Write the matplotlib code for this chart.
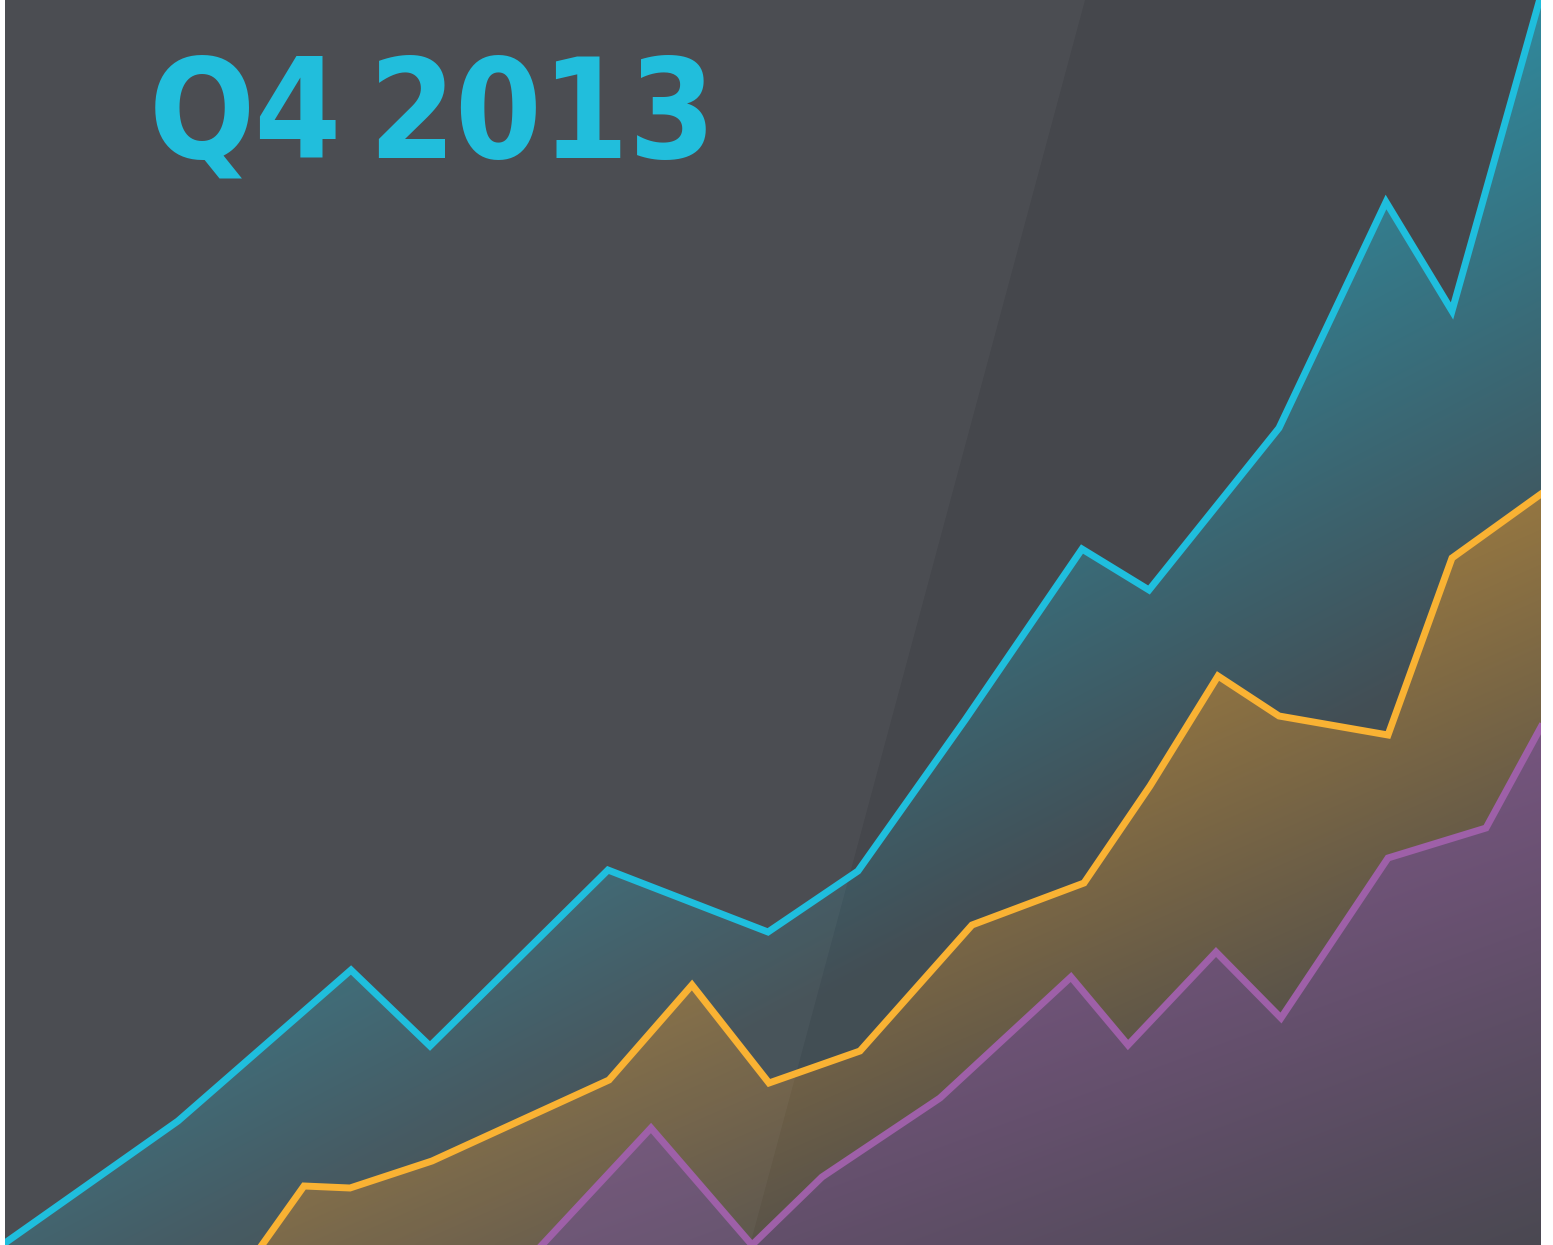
import numpy as np
import matplotlib
matplotlib.use("Agg")
from matplotlib import pyplot as plt
from matplotlib.patches import Polygon

# series data (x position, value)
cyan_x = [5, 178, 351, 430, 608, 768, 858, 965, 1082, 1149, 1279, 1386, 1452, 1541]
cyan_y = [2, 124, 275, 199, 375, 313, 374, 525, 696, 655, 817, 1043, 934, 1250]

orange_x = [262, 304, 350, 432, 609, 692, 769, 860, 972, 1084, 1150, 1218, 1279, 1388, 1452, 1541]
orange_y = [0, 59, 57, 84, 165, 260, 162, 194, 320, 362, 459, 569, 529, 510, 687, 751]

purple_x = [542, 651, 752, 822, 940, 1071, 1128, 1216, 1281, 1388, 1486, 1541]
purple_y = [0, 117, 0, 68, 147, 268, 200, 293, 227, 387, 417, 518]

title = "Q4 2013"

bg = np.array([69, 71, 76]) / 255.0
xmin, xmax = 5, 1541
ymin, ymax = 0, 1245

fig = plt.figure(figsize=(15.53, 12.45), dpi=100)
fig.patch.set_facecolor("white")
ax = fig.add_axes([xmin / 1553, 0, (xmax - xmin) / 1553, 1])
ax.set_xlim(xmin, xmax)
ax.set_ylim(ymin, ymax)
ax.set_facecolor(bg)
ax.set_xticks([])
ax.set_yticks([])
for s in ax.spines.values():
    s.set_visible(False)

gx, gy = np.meshgrid(np.linspace(xmin, xmax, 400), np.linspace(ymin, ymax, 400))

def grad_area(xs, ys, color, amax, sx, sy, z):
    vmax = max(ys)
    a = amax + sx * (xmax - gx) - sy * (vmax - gy)
    a = np.clip(a, 0.06, 0.6)[..., None]
    c = np.array(matplotlib.colors.to_rgb(color))
    img = bg * (1 - a) + c * a
    verts = list(zip(xs, ys)) + [(xs[-1], -20), (xs[0], -20)]
    poly = Polygon(verts, closed=True, facecolor="none", edgecolor="none")
    ax.add_patch(poly)
    im = ax.imshow(img, extent=(xmin, xmax, ymin, ymax), origin="lower",
                   aspect="auto", interpolation="bilinear", zorder=z)
    im.set_clip_path(poly)

grad_area(cyan_x, cyan_y, "#1fbedd", 0.56, 0.00042, 0.0008, 1)
grad_area(orange_x, orange_y, "#f9b233", 0.44, 0.00035, 0.0008, 2)
grad_area(purple_x, purple_y, "#9e60a8", 0.55, 0.00035, 0.00095, 3)

# light diagonal band on the left
band = Polygon([(xmin, ymax), (1085, ymax), (750, ymin), (xmin, ymin)],
               closed=True, facecolor="white", alpha=0.035, edgecolor="none", zorder=4)
ax.add_patch(band)

for xs, ys, col in [(cyan_x, cyan_y, "#1fbedd"), (orange_x, orange_y, "#f9b233"),
                    (purple_x, purple_y, "#9e60a8")]:
    ax.plot(xs, ys, color=col, lw=5, solid_joinstyle="miter", zorder=5)

# title, two words placed apart like the original
q, yr = title.split()
for word, xpos in [(q, 149), (yr, 368)]:
    ax.text(xpos, ymax - 158, word, color="#21bedc", fontsize=100, fontweight="bold",
            fontstretch="condensed", family="DejaVu Sans", ha="left", va="baseline", zorder=6)

fig.savefig("out.png", dpi=100)
